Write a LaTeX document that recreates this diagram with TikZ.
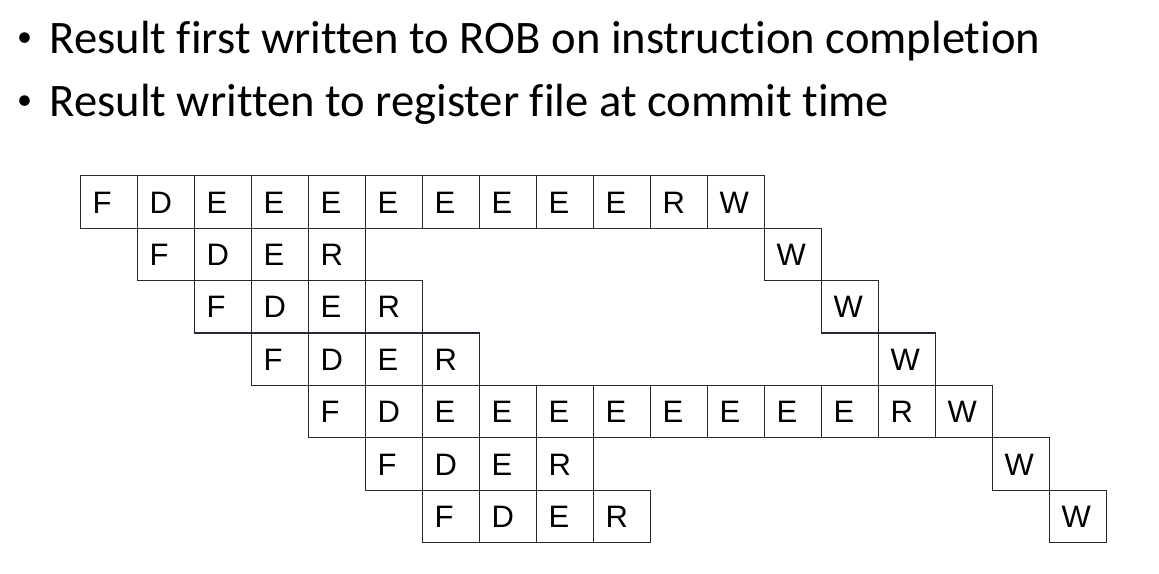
\documentclass[tikz,border=0pt]{standalone}
\usepackage{fontspec}
\setmainfont{Carlito}[Ligatures=NoCommon]
\newfontfamily\cellfont{Liberation Sans}
\usepackage{tikz}
\definecolor{gridgray}{RGB}{40, 40, 50}

\tikzset{
  cell/.style={draw=gridgray, line width=1.1pt, minimum width=57pt, minimum height=52.4pt,
    inner xsep=12pt, text width=33pt, align=left, text height=22.2pt, text depth=0pt,
    font=\cellfont\fontsize{31pt}{31pt}\selectfont},
  bullet/.style={anchor=base west, inner sep=0pt, font=\fontsize{30pt}{30pt}\selectfont},
  line/.style={anchor=base west, inner sep=0pt, font=\fontsize{46.6pt}{46.6pt}\selectfont}
}

\begin{document}
\begin{tikzpicture}[x=57pt, y=-52.4pt]
  \useasboundingbox (-1.9158,-3.855) rectangle (18.4175,7.099);

  %Bullets
  \draw[]
   (-1.62,-2.967) node[bullet](p1) {•}
   (-1.047,-2.838) node[line](l1) {Result first written to ROB on instruction completion}
   (-1.62,-1.757) node[bullet](p2) {•}
   (-1.047,-1.628) node[line](l2) {Result written to register file at commit time};

  %Long instruction
  \draw[]
   (0,0) node[cell](a0) {F} (1,0) node[cell](a1) {D} (2,0) node[cell](a2) {E} (3,0) node[cell](a3) {E}
   (4,0) node[cell](a4) {E} (5,0) node[cell](a5) {E} (6,0) node[cell](a6) {E} (7,0) node[cell](a7) {E}
   (8,0) node[cell](a8) {E} (9,0) node[cell](a9) {E} (10,0) node[cell](a10) {R} (11,0) node[cell](a11) {W};

  %Short ones wait for it
  \draw[]
   (1,1) node[cell](b1) {F} (2,1) node[cell](b2) {D} (3,1) node[cell](b3) {E} (4,1) node[cell](b4) {R}
   (12,1) node[cell](b12) {W};
  \draw[]
   (2,2) node[cell](c2) {F} (3,2) node[cell](c3) {D} (4,2) node[cell](c4) {E} (5,2) node[cell](c5) {R}
   (13,2) node[cell](c13) {W};
  \draw[]
   (3,3) node[cell](d3) {F} (4,3) node[cell](d4) {D} (5,3) node[cell](d5) {E} (6,3) node[cell](d6) {R}
   (14,3) node[cell](d14) {W};

  %Second long instruction
  \draw[]
   (4,4) node[cell](e4) {F} (5,4) node[cell](e5) {D} (6,4) node[cell](e6) {E} (7,4) node[cell](e7) {E}
   (8,4) node[cell](e8) {E} (9,4) node[cell](e9) {E} (10,4) node[cell](e10) {E} (11,4) node[cell](e11) {E}
   (12,4) node[cell](e12) {E} (13,4) node[cell](e13) {E} (14,4) node[cell](e14) {R} (15,4) node[cell](e15) {W};

  \draw[]
   (5,5) node[cell](f5) {F} (6,5) node[cell](f6) {D} (7,5) node[cell](f7) {E} (8,5) node[cell](f8) {R}
   (16,5) node[cell](f16) {W};
  \draw[]
   (6,6) node[cell](g6) {F} (7,6) node[cell](g7) {D} (8,6) node[cell](g8) {E} (9,6) node[cell](g9) {R}
   (17,6) node[cell](g17) {W};
\end{tikzpicture}
\end{document}
